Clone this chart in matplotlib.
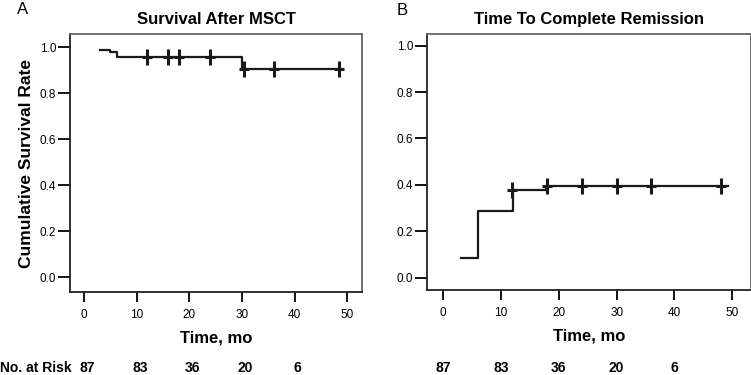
import numpy as np
import matplotlib
matplotlib.use("Agg")
import matplotlib.pyplot as plt
from matplotlib.path import Path
from matplotlib.transforms import blended_transform_factory

plt.rcParams['font.family'] = ['Liberation Sans', 'DejaVu Sans']

# panel A: survival after MSCT
step_t_a = [3.0, 4.9, 6.2, 30.0, 49.0]
step_s_a = [0.987, 0.978, 0.955, 0.905, 0.905]
cens_t_a = [12, 16, 18, 24, 30.4, 36, 48.4]
cens_s_a = [0.955, 0.955, 0.955, 0.955, 0.905, 0.905, 0.905]

# panel B: time to complete remission
step_t_b = [3.1, 6.1, 12.1, 17.8, 49.2]
step_c_b = [0.084, 0.289, 0.378, 0.394, 0.394]
cens_t_b = [12, 18, 24, 30, 36, 48]
cens_c_b = [0.378, 0.394, 0.394, 0.394, 0.394, 0.394]

risk_t = [0, 10, 20, 30, 40]
risk_n = [87, 83, 36, 20, 6]
xticks = [0, 10, 20, 30, 40, 50]
yticks = [0.0, 0.2, 0.4, 0.6, 0.8, 1.0]

# censor mark: tall cross
cross = Path([(-0.33, 0), (0.33, 0), (0, -0.5), (0, 0.5)],
             [Path.MOVETO, Path.LINETO, Path.MOVETO, Path.LINETO])

fig = plt.figure(figsize=(7.51, 3.75), dpi=100)
axA = fig.add_axes([0.0932, 0.2213, 0.389, 0.688])
axB = fig.add_axes([0.5686, 0.2267, 0.432, 0.6826])

def style(ax, xlim, ylim):
    ax.set_xlim(*xlim)
    ax.set_ylim(*ylim)
    ax.set_xticks(xticks)
    ax.set_yticks(yticks)
    ax.set_yticklabels([f"{v:.1f}" for v in yticks])
    ax.tick_params(axis='x', length=7, width=1.3, labelsize=8.5, pad=5, direction='out')
    ax.tick_params(axis='y', length=9, width=1.3, labelsize=8.5, pad=1, direction='out')
    for s in ['left', 'bottom']:
        ax.spines[s].set_linewidth(1.3)
        ax.spines[s].set_color('#222222')
    for s in ['top', 'right']:
        ax.spines[s].set_linewidth(1.3)
        ax.spines[s].set_color('#666666')
    ax.set_xlabel('Time, mo', fontsize=12, fontweight='bold', labelpad=7)

style(axA, (-2.66, 52.8), (-0.065, 1.057))
style(axB, (-2.76, 53.3), (-0.053, 1.05))

axA.step(step_t_a, step_s_a, where='post', color='#1a1a1a', lw=1.6)
axA.plot(cens_t_a, cens_s_a, ls='none', marker=cross, ms=11, mew=2.2, color='#1a1a1a')
axB.step(step_t_b, step_c_b, where='post', color='#1a1a1a', lw=1.6)
axB.plot(cens_t_b, cens_c_b, ls='none', marker=cross, ms=11, mew=2.2, color='#1a1a1a')

axA.set_title('Survival After MSCT', fontsize=12, fontweight='bold', pad=7)
axB.set_title('Time To Complete Remission', fontsize=12, fontweight='bold', pad=7)
axA.set_ylabel('Cumulative Survival Rate', fontsize=12.5, fontweight='bold', labelpad=4)

fig.text(0.022, 0.975, 'A', fontsize=12, va='center', ha='left')
fig.text(0.528, 0.973, 'B', fontsize=12, va='center', ha='left')

fig.text(0.0, 0.019, 'No. at Risk', fontsize=10, fontweight='bold', va='center', ha='left')
for ax in (axA, axB):
    tr = blended_transform_factory(ax.transData, fig.transFigure)
    for t, n in zip(risk_t, risk_n):
        ax.text(t + 0.6 if ax is axA else t, 0.019, str(n), transform=tr,
                fontsize=10, fontweight='bold', ha='center', va='center')

fig.savefig('out.png', dpi=100)
